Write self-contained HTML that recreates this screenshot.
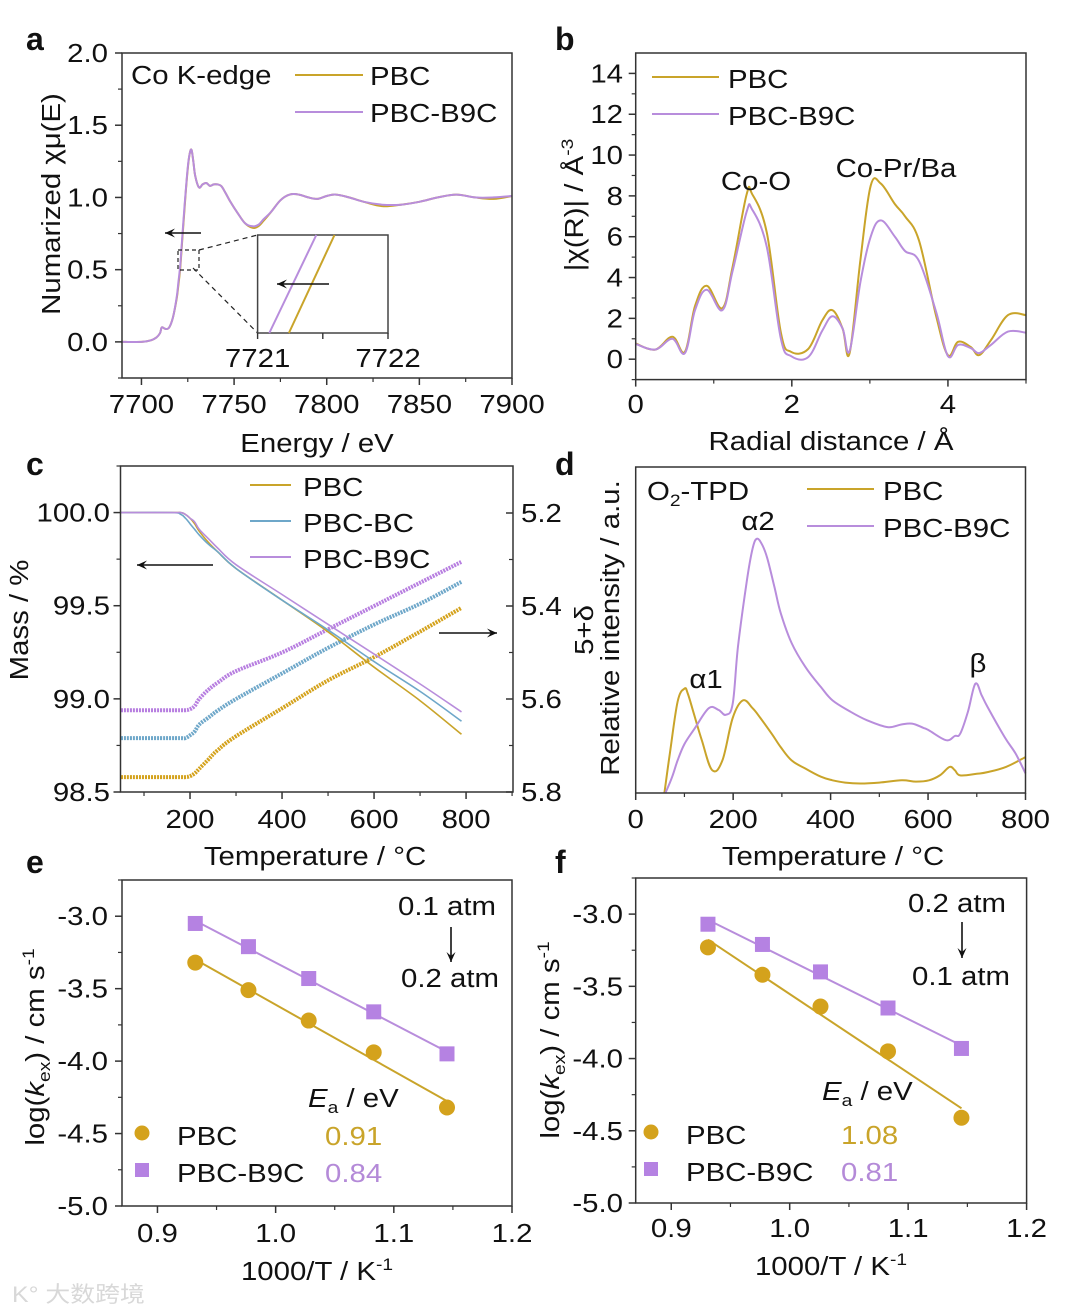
<!DOCTYPE html>
<html><head><meta charset="utf-8">
<style>
html,body{margin:0;padding:0;background:#fff;}
svg{display:block;font-family:"Liberation Sans","Noto Sans CJK SC",sans-serif;}
</style></head>
<body>
<svg id="fig" width="1080" height="1312" viewBox="0 0 1080 1312" xmlns="http://www.w3.org/2000/svg"></svg>
<script>
// ---------- DATA ----------
// Panel a (XANES)
const aEnergy=[7689,7700,7705,7708,7710,7711,7713,7715,7717,7719,7720,7721,7722,7723,7724,7725,7726,7727,7728,7729,7731,7733,7735,7737,7739,7741,7743,7745,7748,7752,7756,7760,7763,7766,7770,7775,7780,7785,7790,7795,7800,7805,7812,7820,7830,7840,7850,7860,7870,7880,7890,7900];
const aPBC   =[0,0,0.01,0.03,0.06,0.1,0.09,0.1,0.17,0.3,0.4,0.52,0.7,0.88,1.05,1.2,1.3,1.33,1.25,1.15,1.07,1.09,1.1,1.08,1.09,1.09,1.08,1.04,0.97,0.89,0.82,0.79,0.8,0.84,0.9,0.98,1.02,1.02,1.0,0.99,1.01,1.02,1.0,0.97,0.94,0.95,0.97,1.0,1.02,1.0,0.99,1.01];
const aB9C   =[0,0,0.01,0.03,0.06,0.1,0.09,0.1,0.17,0.31,0.42,0.54,0.72,0.9,1.06,1.21,1.3,1.33,1.25,1.15,1.07,1.09,1.1,1.08,1.09,1.09,1.08,1.04,0.97,0.89,0.82,0.8,0.81,0.85,0.9,0.98,1.02,1.02,1.0,0.99,1.01,1.02,1.0,0.97,0.95,0.95,0.97,1.0,1.02,1.0,1.0,1.01];
const insetPBC=[[7721.24,0],[7721.59,1]];
const insetB9C=[[7721.09,0],[7721.45,1]];
// Panel b (FT-EXAFS)
const bR=[0,0.25,0.47,0.63,0.76,0.91,1.11,1.24,1.42,1.49,1.68,1.86,1.99,2.21,2.39,2.52,2.65,2.74,2.88,3.01,3.14,3.32,3.45,3.63,3.85,4.0,4.13,4.29,4.4,4.55,4.77,5.0];
const bPBC=[0.77,0.47,1.1,0.36,2.6,3.6,2.5,4.5,8.05,8.1,6.2,1.3,0.36,0.5,1.9,2.4,1.5,0.3,4.9,8.5,8.6,7.6,7.0,5.8,2.1,0.2,0.85,0.6,0.2,0.93,2.16,2.16];
const bB9C=[0.75,0.47,1.0,0.3,2.4,3.4,2.4,4.3,7.2,7.35,5.5,1.0,0.15,0.1,1.4,2.1,1.5,0.4,3.8,6.0,6.8,6.0,5.3,4.8,2.3,0.15,0.7,0.55,0.3,0.7,1.35,1.3];
// Panel c (TGA)
const cT=[50,160,180,190,200,210,220,240,260,300,400,500,600,700,790];
const cMassPBC=[100,100,100,99.99,99.97,99.94,99.9,99.84,99.79,99.7,99.53,99.36,99.17,98.99,98.81];
const cMassBC =[100,100,99.99,99.97,99.94,99.91,99.88,99.83,99.79,99.7,99.53,99.37,99.2,99.04,98.88];
const cMassB9C=[100,100,100,99.99,99.97,99.95,99.91,99.86,99.81,99.72,99.56,99.4,99.24,99.08,98.93];
const cDeltaPBC=[5.768,5.768,5.768,5.768,5.766,5.76,5.75,5.73,5.71,5.68,5.62,5.56,5.51,5.455,5.404];
const cDeltaBC =[5.684,5.684,5.684,5.684,5.678,5.67,5.655,5.64,5.625,5.6,5.545,5.49,5.44,5.395,5.348];
const cDeltaB9C=[5.624,5.624,5.624,5.624,5.622,5.615,5.6,5.58,5.565,5.54,5.5,5.45,5.4,5.35,5.305];
// Panel d (O2-TPD)
const dT_PBC=[59,70,86,100,107,120,136,157,178,199,220,240,256,280,298,320,348,380,404,430,461,500,546,575,602,625,644,655,666,700,722,760,800];
const dPBC  =[0,12,28,32,30.5,24,16,7,10,23,28.4,26,23,18,14,10,7.5,5,3.9,3.2,2.9,3.2,3.9,3.5,3.9,5.5,8,7,5.4,5.9,6.4,8,11];
const dT_B9C=[61,75,86,100,122,150,170,185,199,210,228,240,249,260,270,285,298,320,348,380,404,440,475,517,545,567,590,602,637,655,666,682,697,710,722,757,780,800];
const dB9C  =[0,5,10,15,20,26,25.5,24,27.4,45,65,75,78,76,72,63,55,46,38.7,32.5,28.4,25,22.3,20.2,21,21.3,20,19.2,16.2,17.5,18.2,25,33.5,30,26.4,17.2,12,6];
// Panel e
const eX=[0.932,0.977,1.028,1.083,1.145];
const ePBC=[-3.32,-3.51,-3.72,-3.94,-4.32];
const eB9C=[-3.05,-3.21,-3.43,-3.66,-3.95];
// Panel f
const fX=[0.931,0.977,1.026,1.083,1.145];
const fPBC=[-3.23,-3.42,-3.64,-3.95,-4.41];
const fB9C=[-3.07,-3.21,-3.40,-3.65,-3.93];

// ---------- helpers ----------
const NS='http://www.w3.org/2000/svg';
const svg=document.getElementById('fig');
const GOLD='#c9a42a', GOLDM='#d4a21c', PURP='#b88ddc', PURPM='#b582e2', BLUE='#6ea7c9';
const SX=1.13;
function el(tag,attrs,name,parent){
  const e=document.createElementNS(NS,tag);
  for(const k in attrs) e.setAttribute(k,attrs[k]);
  
  
  (parent||svg).appendChild(e);
  return e;
}
function txt(x,y,s,name,opt){
  opt=opt||{};
  const t=el('text',{x:0,y:0,'font-size':opt.size||26,'text-anchor':opt.anchor||'start',fill:opt.fill||'#111','font-weight':opt.bold?'bold':'normal'},name);
  const sx=opt.bold?1:SX;
  t.setAttribute('transform','translate('+x+' '+y+')'+(opt.rot?' rotate(-90)':'')+' scale('+sx+' 1)');
  t.innerHTML=s;
  return t;
}
function scale(d0,d1,r0,r1){return v=>r0+(v-d0)*(r1-r0)/(d1-d0);}
function line(X,Y,xs,ys,color,w,name,smooth){
  const P=xs.map((v,i)=>[X(v),Y(ys[i])]);
  let d='M'+P[0][0].toFixed(1)+','+P[0][1].toFixed(1);
  for(let i=1;i<P.length;i++){
    if(smooth){
      const p0=P[Math.max(0,i-2)],p1=P[i-1],p2=P[i],p3=P[Math.min(P.length-1,i+1)];
      const t=0.18;
      const c1=[p1[0]+(p2[0]-p0[0])*t,p1[1]+(p2[1]-p0[1])*t];
      const c2=[p2[0]-(p3[0]-p1[0])*t,p2[1]-(p3[1]-p1[1])*t];
      d+='C'+c1[0].toFixed(1)+','+c1[1].toFixed(1)+' '+c2[0].toFixed(1)+','+c2[1].toFixed(1)+' '+p2[0].toFixed(1)+','+p2[1].toFixed(1);
    } else d+='L'+P[i][0].toFixed(1)+','+P[i][1].toFixed(1);
  }
  return el('path',{d:d,fill:'none',stroke:color,'stroke-width':w,'stroke-linejoin':'round'},name);
}
function box(b,name){
  el('rect',{x:b.x0,y:b.y0,width:b.x1-b.x0,height:b.y1-b.y0,fill:'none',stroke:'#333','stroke-width':1.5},name);
}
function ticksX(b,X,vals,minor,labs,base,name){
  vals.forEach((v,i)=>{
    el('line',{x1:X(v),x2:X(v),y1:b.y1,y2:b.y1+7,stroke:'#333','stroke-width':1.5},name+'-tick');
    if(labs) txt(X(v),base,labs[i],name+'-label',{anchor:'middle'});
  });
  minor.forEach(v=>{el('line',{x1:X(v),x2:X(v),y1:b.y1,y2:b.y1+4,stroke:'#333','stroke-width':1.2},name+'-minor-tick');});
}
function ticksY(b,Y,vals,minor,labs,xr,name,side){
  const ax=side==='r'?b.x1:b.x0;
  vals.forEach((v,i)=>{
    el('line',{x1:ax,x2:ax-7,y1:Y(v),y2:Y(v),stroke:'#333','stroke-width':1.5},name+'-tick');
    if(labs) txt(xr,Y(v)+9,labs[i],name+'-label',{anchor:side==='r'?'start':'end'});
  });
  minor.forEach(v=>{el('line',{x1:ax,x2:ax-4,y1:Y(v),y2:Y(v),stroke:'#333','stroke-width':1.2},name+'-minor-tick');});
}
function arrow(x1,y1,x2,y2,name){
  el('line',{x1:x1,y1:y1,x2:x2,y2:y2,stroke:'#111','stroke-width':1.6},name);
  const ang=Math.atan2(y2-y1,x2-x1),L=10,W=4.5;
  const p=[[x2,y2],[x2-L*Math.cos(ang)+W*Math.sin(ang),y2-L*Math.sin(ang)-W*Math.cos(ang)],[x2-L*0.6*Math.cos(ang),y2-L*0.6*Math.sin(ang)],[x2-L*Math.cos(ang)-W*Math.sin(ang),y2-L*Math.sin(ang)+W*Math.cos(ang)]];
  el('polygon',{points:p.map(q=>q.join(',')).join(' '),fill:'#111'},name+'-head');
}
function fit(xs,ys){const n=xs.length;let sx=0,sy=0,sxx=0,sxy=0;for(let i=0;i<n;i++){sx+=xs[i];sy+=ys[i];sxx+=xs[i]*xs[i];sxy+=xs[i]*ys[i];}const m=(n*sxy-sx*sy)/(n*sxx-sx*sx);return [m,(sy-m*sx)/n];}

// ---------- Panel a ----------
(function(){
  const b={x0:122,x1:512,y0:53,y1:378};
  const X=scale(7689.5,7900,b.x0,b.x1), Y=scale(-0.25,2.0,b.y1,b.y0);
  txt(26,50,'a','panel-a-label',{size:32,bold:true});
  line(X,Y,aEnergy,aPBC,GOLD,2,'xanes-pbc-line',true);
  line(X,Y,aEnergy,aB9C,PURP,2,'xanes-b9c-line',true);
  box(b,'panel-a-frame');
  ticksY(b,Y,[0,0.5,1,1.5,2],[-0.25,0.25,0.75,1.25,1.75],['0.0','0.5','1.0','1.5','2.0'],108,'a-y');
  ticksX(b,X,[7700,7750,7800,7850,7900],[7725,7775,7825,7875],['7700','7750','7800','7850','7900'],413,'a-x');
  txt(317,452,'Energy / eV','a-x-title',{anchor:'middle'});
  txt(60,204,'Numarized χμ(E)','a-y-title',{anchor:'middle',rot:true});
  txt(131,84,'Co K-edge','edge-label');
  el('line',{x1:295,x2:363,y1:75,y2:75,stroke:GOLD,'stroke-width':2},'legend-pbc-swatch');
  txt(370,85,'PBC','legend-pbc');
  el('line',{x1:295,x2:363,y1:112,y2:112,stroke:PURP,'stroke-width':2},'legend-b9c-swatch');
  txt(370,122,'PBC-B9C','legend-b9c');
  el('rect',{x:178,y:250,width:21,height:20,fill:'none',stroke:'#222','stroke-width':1.2,'stroke-dasharray':'4 3'},'zoom-region');
  el('line',{x1:199,y1:250,x2:257.6,y2:235,stroke:'#222','stroke-width':1.2,'stroke-dasharray':'5 4'},'zoom-line-top');
  el('line',{x1:193,y1:268,x2:257.6,y2:333,stroke:'#222','stroke-width':1.2,'stroke-dasharray':'5 4'},'zoom-line-bottom');
  arrow(201,233,165,233,'shift-arrow');
  const ib={x0:257.6,x1:388,y0:235,y1:333};
  el('rect',{x:ib.x0,y:ib.y0,width:ib.x1-ib.x0,height:ib.y1-ib.y0,fill:'#fff',stroke:'#444','stroke-width':1.5},'inset-frame');
  const IX=scale(7721,7722,ib.x0,ib.x1), IY=scale(0,1,ib.y1,ib.y0);
  line(IX,IY,insetPBC.map(p=>p[0]),insetPBC.map(p=>p[1]),GOLD,2,'inset-pbc-line');
  line(IX,IY,insetB9C.map(p=>p[0]),insetB9C.map(p=>p[1]),PURP,2,'inset-b9c-line');
  [7721,7721.5,7722].forEach(v=>el('line',{x1:IX(v),x2:IX(v),y1:ib.y1,y2:ib.y1+6,stroke:'#333','stroke-width':1.4},'inset-tick'));
  txt(IX(7721),367,'7721','inset-x-label',{anchor:'middle'});
  txt(IX(7722),367,'7722','inset-x-label',{anchor:'middle'});
  arrow(329,284,277,284,'inset-arrow');
})();

// ---------- Panel b ----------
(function(){
  const b={x0:635.7,x1:1026,y0:53,y1:379.6};
  const X=scale(0,5,b.x0,b.x1), Y=scale(-1,15,b.y1,b.y0);
  txt(555,50,'b','panel-b-label',{size:32,bold:true});
  line(X,Y,bR,bPBC,GOLD,2,'ft-pbc-line',true);
  line(X,Y,bR,bB9C,PURP,2,'ft-b9c-line',true);
  box(b,'panel-b-frame');
  ticksY(b,Y,[0,2,4,6,8,10,12,14],[-1,1,3,5,7,9,11,13],['0','2','4','6','8','10','12','14'],623,'b-y');
  ticksX(b,X,[0,2,4],[1,3,5],['0','2','4'],413,'b-x');
  txt(831,450,'Radial distance / Å','b-x-title',{anchor:'middle'});
  txt(583,205,'|χ(R)| / Å<tspan font-size="17" dy="-10">-3</tspan>','b-y-title',{anchor:'middle',rot:true});
  el('line',{x1:652,x2:719,y1:77,y2:77,stroke:GOLD,'stroke-width':2},'legend-pbc-swatch');
  txt(728,88,'PBC','legend-pbc');
  el('line',{x1:652,x2:719,y1:114,y2:114,stroke:PURP,'stroke-width':2},'legend-b9c-swatch');
  txt(728,125,'PBC-B9C','legend-b9c');
  txt(756,190,'Co-O','co-o-peak-label',{anchor:'middle'});
  txt(896,177,'Co-Pr/Ba','co-pr-ba-peak-label',{anchor:'middle'});
})();

// ---------- Panel c ----------
(function(){
  const b={x0:120.5,x1:513,y0:466,y1:792};
  const X=scale(48.9,902,b.x0,b.x1), Y=scale(98.5,100.25,b.y1,b.y0), Y2=scale(5.2,5.8,513,792);
  txt(26,475,'c','panel-c-label',{size:32,bold:true});
  line(X,Y2,cT,cDeltaPBC,GOLDM,4,'delta-pbc-line',true).setAttribute('stroke-dasharray','2 1');
  line(X,Y2,cT,cDeltaBC,BLUE,4,'delta-bc-line',true).setAttribute('stroke-dasharray','2 1');
  line(X,Y2,cT,cDeltaB9C,'#b77ee0',4,'delta-b9c-line',true).setAttribute('stroke-dasharray','2 1');
  line(X,Y,cT,cMassPBC,GOLD,1.6,'mass-pbc-line',true);
  line(X,Y,cT,cMassBC,BLUE,1.6,'mass-bc-line',true);
  line(X,Y,cT,cMassB9C,PURP,1.6,'mass-b9c-line',true);
  box(b,'panel-c-frame');
  ticksY(b,Y,[98.5,99,99.5,100],[98.75,99.25,99.75,100.25],['98.5','99.0','99.5','100.0'],110,'c-y');
  ticksY(b,Y2,[5.2,5.4,5.6,5.8],[5.3,5.5,5.7],['5.2','5.4','5.6','5.8'],521,'c-y2','r');
  ticksX(b,X,[200,400,600,800],[100,300,500,700,900],['200','400','600','800'],828,'c-x');
  txt(315,865,'Temperature / °C','c-x-title',{anchor:'middle'});
  txt(28,620,'Mass / %','c-y-title',{anchor:'middle',rot:true});
  txt(593,630,'5+δ','c-y2-title',{anchor:'middle',rot:true});
  [['PBC',GOLD,485,496],['PBC-BC',BLUE,521,532],['PBC-B9C',PURP,557,568]].forEach(l=>{
    el('line',{x1:250,x2:291,y1:l[2],y2:l[2],stroke:l[1],'stroke-width':2},'legend-swatch');
    txt(303,l[3],l[0],'legend-entry');
  });
  arrow(213,565,137,565,'mass-axis-arrow');
  arrow(439,633,497,633,'delta-axis-arrow');
})();

// ---------- Panel d ----------
(function(){
  const b={x0:635.7,x1:1025.5,y0:467,y1:793};
  const X=scale(0,800,b.x0,b.x1), Y=scale(0,100,b.y1,b.y0);
  txt(555,475,'d','panel-d-label',{size:32,bold:true});
  line(X,Y,dT_PBC,dPBC,GOLD,2,'tpd-pbc-line',true);
  line(X,Y,dT_B9C,dB9C,PURP,2,'tpd-b9c-line',true);
  box(b,'panel-d-frame');
  ticksX(b,X,[0,200,400,600,800],[100,300,500,700],['0','200','400','600','800'],828,'d-x');
  txt(833,865,'Temperature / °C','d-x-title',{anchor:'middle'});
  txt(619,628,'Relative intensity / a.u.','d-y-title',{anchor:'middle',rot:true});
  txt(647,500,'O<tspan font-size="17" dy="6">2</tspan><tspan dy="-6">-TPD</tspan>','tpd-label');
  el('line',{x1:807,x2:874,y1:489,y2:489,stroke:GOLD,'stroke-width':2},'legend-pbc-swatch');
  txt(883,500,'PBC','legend-pbc');
  el('line',{x1:807,x2:874,y1:526,y2:526,stroke:PURP,'stroke-width':2},'legend-b9c-swatch');
  txt(883,537,'PBC-B9C','legend-b9c');
  txt(706,688,'α1','alpha1-label',{anchor:'middle'});
  txt(758,530,'α2','alpha2-label',{anchor:'middle'});
  txt(978,672,'β','beta-label',{anchor:'middle'});
})();

// ---------- Panels e & f ----------
function arrh(P){
  const b=P.b;
  const X=scale(0.87,1.2,b.x0,b.x1), Y=scale(-5,-2.75,b.y1,b.y0);
  txt(P.lx,P.ly,P.letter,'panel-'+P.letter+'-label',{size:32,bold:true});
  const f1=fit(P.x,P.pbc), f2=fit(P.x,P.b9c);
  const xe=[P.x[0],P.x[P.x.length-1]];
  line(X,Y,xe,xe.map(v=>f1[0]*v+f1[1]),GOLD,2,'fit-pbc-line');
  line(X,Y,xe,xe.map(v=>f2[0]*v+f2[1]),PURP,2,'fit-b9c-line');
  P.x.forEach((v,i)=>{
    el('circle',{cx:X(v),cy:Y(P.pbc[i]),r:8,fill:GOLDM},'pbc-point');
    el('rect',{x:X(v)-7.5,y:Y(P.b9c[i])-7.5,width:15,height:15,fill:PURPM},'b9c-point');
  });
  box(b,'panel-'+P.letter+'-frame');
  ticksY(b,Y,[-5,-4.5,-4,-3.5,-3],[-4.75,-4.25,-3.75,-3.25,-2.75],['-5.0','-4.5','-4.0','-3.5','-3.0'],P.yl,P.letter+'-y');
  ticksX(b,X,[0.9,1.0,1.1,1.2],[0.95,1.05,1.15],['0.9','1.0','1.1','1.2'],P.xb,P.letter+'-x');
  txt(P.tx,P.tb,'1000/T / K<tspan font-size="17" dy="-10">-1</tspan>',P.letter+'-x-title',{anchor:'middle'});
  txt(P.ytx,P.yty,'log(<tspan font-style="italic">k</tspan><tspan font-size="17" dy="6">ex</tspan><tspan dy="-6">) / cm s</tspan><tspan font-size="17" dy="-10">-1</tspan>',P.letter+'-y-title',{anchor:'middle',rot:true});
  txt(P.a1x,P.a1b,P.a1,'pressure-from-label');
  arrow(P.arx,P.ar1,P.arx,P.ar2,'pressure-arrow');
  txt(P.a2x,P.a2b,P.a2,'pressure-to-label');
  txt(P.eax,P.eab,'<tspan font-style="italic">E</tspan><tspan font-size="17" dy="6">a</tspan><tspan dy="-6"> / eV</tspan>','ea-header');
  el('circle',{cx:P.mx,cy:P.my1,r:7.5,fill:GOLDM},'legend-pbc-marker');
  txt(P.mx+35,P.my1+12,'PBC','legend-pbc');
  el('rect',{x:P.mx-7,y:P.my2-7,width:14,height:14,fill:PURPM},'legend-b9c-marker');
  txt(P.mx+35,P.my2+12,'PBC-B9C','legend-b9c');
  txt(P.vx,P.my1+12,P.v1,'ea-pbc-value',{fill:'#c9a42a'});
  txt(P.vx,P.my2+12,P.v2,'ea-b9c-value',{fill:'#b48ad8'});
}
arrh({letter:'e',lx:26,ly:873,b:{x0:122,x1:512,y0:880,y1:1206},x:eX,pbc:ePBC,b9c:eB9C,yl:108,xb:1242,tx:317,tb:1280,ytx:44,yty:1047,
  a1x:398,a1b:915,a1:'0.1 atm',arx:451,ar1:927,ar2:962,a2x:401,a2b:987,a2:'0.2 atm',eax:308,eab:1107,mx:142,my1:1133,my2:1170,vx:325,v1:'0.91',v2:'0.84'});
arrh({letter:'f',lx:555,ly:873,b:{x0:635.7,x1:1026.6,y0:878,y1:1203},x:fX,pbc:fPBC,b9c:fB9C,yl:623,xb:1237,tx:831,tb:1275,ytx:559,yty:1040,
  a1x:908,a1b:912,a1:'0.2 atm',arx:962,ar1:922,ar2:958,a2x:912,a2b:985,a2:'0.1 atm',eax:822,eab:1100,mx:651,my1:1132,my2:1169,vx:841,v1:'1.08',v2:'0.81'});

txt(12,1302,'K° 大数跨境','watermark',{size:22,fill:'#d8d8d8'});
</script>
</body></html>
